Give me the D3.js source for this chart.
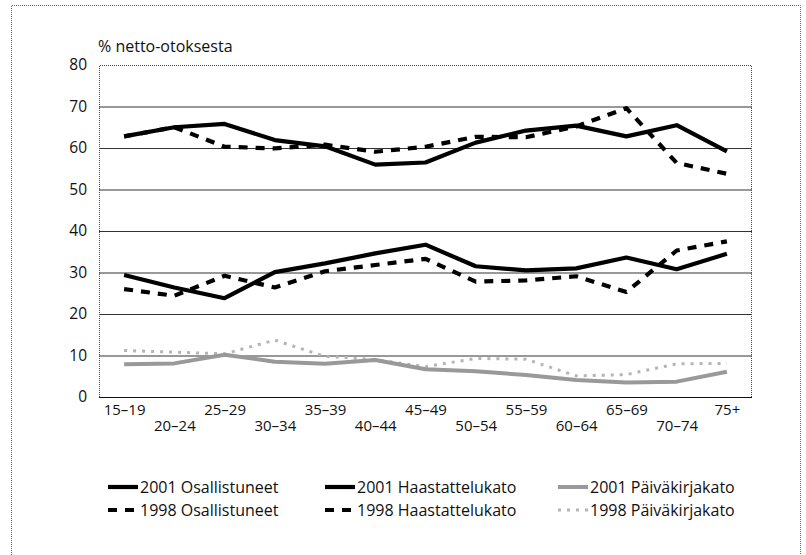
<!DOCTYPE html>
<html>
<head>
<meta charset="utf-8">
<script src="https://cdn.jsdelivr.net/npm/d3@7"></script>
<style>
  body { margin: 0; background: #fff; }
  #graph { width: 806px; height: 555px; }
  text { font-family: "Open Sans", "DejaVu Sans", sans-serif; fill: #111; }
</style>
</head>
<body>
<div id="graph"></div>
<script>
// age groups on the x axis
var categories = ["15–19", "20–24", "25–29", "30–34", "35–39", "40–44", "45–49",
  "50–54", "55–59", "60–64", "65–69", "70–74", "75+"];

// series values, % of net sample
var osall2001 = [62.8, 65.0, 65.8, 61.9, 60.4, 56.0, 56.5, 61.3, 64.2, 65.4, 62.8, 65.5, 59.2];
var osall1998 = [62.8, 65.0, 60.3, 59.9, 60.8, 59.1, 60.3, 62.7, 62.6, 65.2, 69.6, 56.4, 53.8];
var haast2001 = [29.4, 26.4, 23.8, 30.1, 32.2, 34.6, 36.7, 31.5, 30.5, 31.0, 33.6, 30.8, 34.5];
var haast1998 = [26.0, 24.4, 29.2, 26.4, 30.3, 31.8, 33.3, 27.8, 28.1, 29.1, 25.3, 35.3, 37.5];
var paiva2001 = [7.9, 8.1, 10.2, 8.5, 8.0, 8.9, 6.7, 6.2, 5.3, 4.1, 3.5, 3.7, 6.1];
var paiva1998 = [11.2, 10.8, 10.4, 13.7, 9.8, 9.0, 7.3, 9.3, 9.1, 5.1, 5.4, 8.0, 8.1];

// y axis ticks
var yTicks = [0, 10, 20, 30, 40, 50, 60, 70, 80];
var yLabel = "% netto-otoksesta";

// series with their line styles (order = legend order)
var series = [
  { name: "2001 Osallistuneet", values: osall2001, stroke: "#000", width: 4.2, dash: null },
  { name: "1998 Osallistuneet", values: osall1998, stroke: "#000", width: 4.2, dash: "9,8" },
  { name: "2001 Haastattelukato", values: haast2001, stroke: "#000", width: 4.2, dash: null },
  { name: "1998 Haastattelukato", values: haast1998, stroke: "#000", width: 4.2, dash: "9,8" },
  { name: "2001 Päiväkirjakato", values: paiva2001, stroke: "#999", width: 4, dash: null },
  { name: "1998 Päiväkirjakato", values: paiva1998, stroke: "#b5b5b5", width: 3, dash: "3,6" }
];

var width = 806, height = 555;
var margin = { top: 65, left: 99, bottom: 158, right: 54 };
var chartWidth = width - margin.left - margin.right;
var chartHeight = height - margin.top - margin.bottom;

var svg = d3.select("#graph").append("svg")
  .attr("width", width)
  .attr("height", height);

// outer dotted frame (left, top, right)
svg.append("path")
  .attr("d", "M11.5,555 L11.5,5.5 L800.5,5.5 L800.5,555")
  .attr("fill", "none")
  .attr("stroke", "#666")
  .attr("stroke-width", 1)
  .attr("stroke-dasharray", "1,1");

var chartLayer = svg.append("g")
  .attr("transform", "translate(" + [margin.left, margin.top] + ")");

var xScale = d3.scalePoint()
  .domain(categories)
  .range([0, chartWidth])
  .padding(0.5);

var yScale = d3.scaleLinear()
  .domain([0, 80])
  .range([chartHeight, 0]);

renderGrid();
renderAxis();
renderLines();
renderLegend();

function renderGrid() {
  // horizontal gridlines
  var grid = d3.axisLeft(yScale)
    .tickValues(yTicks.filter(function(d) { return d > 0 && d < 80; }))
    .tickSize(-chartWidth)
    .tickFormat("");
  chartLayer.append("g")
    .attr("class", "grid")
    .call(grid)
    .call(function(g) { g.select(".domain").remove(); })
    .selectAll("line")
    .attr("stroke", "#333")
    .attr("stroke-width", 1);

  // plot border: dotted top, left, right
  chartLayer.append("path")
    .attr("d", "M0.5," + chartHeight + " V0.5 H" + (chartWidth - 0.5) + " V" + chartHeight)
    .attr("fill", "none")
    .attr("stroke", "#444")
    .attr("stroke-dasharray", "1,1");
}

function renderAxis() {
  var yAxis = d3.axisLeft(yScale)
    .tickValues(yTicks)
    .tickSize(0)
    .tickPadding(12);
  chartLayer.append("g")
    .attr("class", "axis y")
    .call(yAxis)
    .call(function(g) { g.select(".domain").remove(); })
    .selectAll("text")
    .style("font-size", "15.5px");

  // baseline
  chartLayer.append("line")
    .attr("x1", 0).attr("x2", chartWidth)
    .attr("y1", chartHeight + 0.5).attr("y2", chartHeight + 0.5)
    .attr("stroke", "#111")
    .attr("stroke-width", 1.2);

  // staggered category labels
  var xAxis = d3.axisBottom(xScale).tickSize(0).tickPadding(0);
  var gx = chartLayer.append("g")
    .attr("class", "axis x")
    .attr("transform", "translate(0," + chartHeight + ")")
    .call(xAxis);
  gx.select(".domain").remove();
  gx.selectAll("text")
    .style("font-size", "15px")
    .attr("dy", null)
    .attr("y", function(d, i) { return i % 2 === 0 ? 18 : 34; });

  svg.append("text")
    .attr("x", margin.left - 1)
    .attr("y", 52)
    .style("font-size", "16px")
    .text(yLabel);
}

function renderLines() {
  var line = d3.line()
    .x(function(d, i) { return xScale(categories[i]); })
    .y(function(d) { return yScale(d); });

  // draw light series first so the black lines sit on top
  var order = [5, 4, 3, 2, 1, 0];
  chartLayer.selectAll(".series")
    .data(order.map(function(i) { return series[i]; }))
    .enter()
    .append("path")
    .attr("class", "series")
    .attr("d", function(d) { return line(d.values); })
    .attr("fill", "none")
    .attr("stroke", function(d) { return d.stroke; })
    .attr("stroke-width", function(d) { return d.width; })
    .attr("stroke-dasharray", function(d) { return d.dash; })
    .attr("stroke-linejoin", "round");
}

function renderLegend() {
  // three columns, two rows
  var colX = [108, 325, 558];
  var rowY = [487, 510];
  var item = svg.selectAll(".legend")
    .data(series)
    .enter()
    .append("g")
    .attr("class", "legend")
    .attr("transform", function(d, i) {
      return "translate(" + [colX[Math.floor(i / 2)], rowY[i % 2]] + ")";
    });

  item.append("line")
    .attr("x1", 0).attr("x2", 30)
    .attr("y1", 0).attr("y2", 0)
    .attr("stroke", function(d) { return d.stroke; })
    .attr("stroke-width", function(d) { return d.width; })
    .attr("stroke-dasharray", function(d) { return d.dash; });

  item.append("text")
    .attr("x", 32)
    .attr("y", 5.5)
    .style("font-size", "16px")
    .text(function(d) { return d.name; });
}
</script>
</body>
</html>
